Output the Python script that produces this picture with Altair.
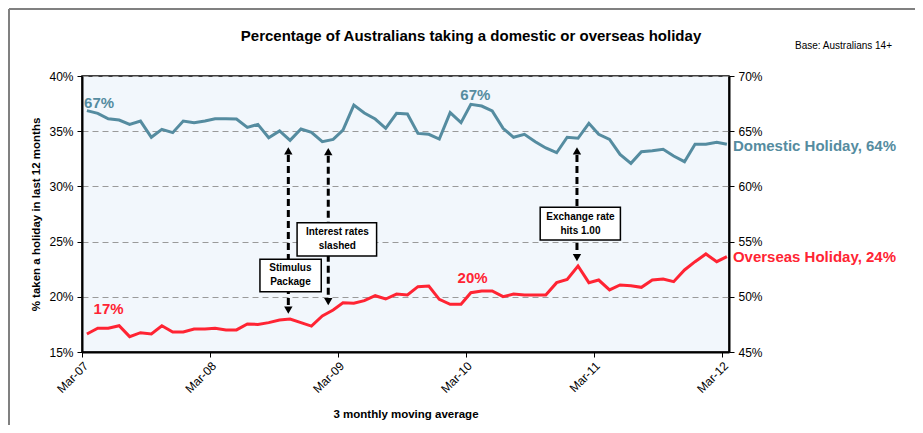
import altair as alt
import pandas as pd

# ---------------- data ----------------
dates = [f"{2007 + (2 + i) // 12}-{(2 + i) % 12 + 1:02d}-15" for i in range(61)]

# Domestic holiday (right axis, %)
domestic = [66.86, 66.62, 66.13, 66.01, 65.62, 65.92, 64.45, 65.17, 64.87, 65.92,
            65.77, 65.92, 66.13, 66.13, 66.10, 65.35, 65.62, 64.41, 65.02, 64.17,
            65.20, 64.90, 64.05, 64.26, 65.10, 67.36, 66.65, 66.10, 65.26, 66.62,
            66.56, 64.80, 64.72, 64.29, 66.68, 65.77, 67.43, 67.28, 66.83, 65.26,
            64.45, 64.72, 64.05, 63.48, 63.05, 64.45, 64.36, 65.71, 64.72, 64.26,
            62.90, 62.09, 63.14, 63.23, 63.36, 62.75, 62.24, 63.81, 63.81, 63.99,
            63.81]

# Overseas holiday (left axis, %)
overseas = [16.63, 17.15, 17.15, 17.38, 16.39, 16.75, 16.63, 17.38, 16.81, 16.81,
            17.08, 17.08, 17.15, 17.00, 17.00, 17.54, 17.50, 17.66, 17.90, 17.99,
            17.66, 17.35, 18.26, 18.80, 19.45, 19.41, 19.65, 20.10, 19.80, 20.25,
            20.16, 20.92, 20.98, 19.77, 19.32, 19.32, 20.37, 20.53, 20.53, 20.01,
            20.25, 20.16, 20.16, 20.16, 21.28, 21.58, 22.79, 21.28, 21.52, 20.62,
            21.07, 21.01, 20.86, 21.52, 21.61, 21.37, 22.43, 23.18, 23.88, 23.18,
            23.64]

left_ticks = [15, 20, 25, 30, 35, 40]
right_ticks = [45, 50, 55, 60, 65, 70]
tick_years = [2007, 2008, 2009, 2010, 2011, 2012]

TITLE = "Percentage of Australians taking a domestic or overseas holiday"
BASE = "Base: Australians 14+"

# value labels
dom_lbl_text = ["67%", "67%"]
dom_lbl_date = ["2007-03-07", "2010-03-28"]
dom_lbl_val = [67.55, 68.28]

ovs_lbl_text = ["17%", "20%"]
ovs_lbl_date = ["2007-05-16", "2010-03-20"]
ovs_lbl_val = [18.9, 21.7]

# annotations (left-axis units)
ann_text = ["Stimulus\nPackage", "Interest rates\nslashed", "Exchange rate\nhits 1.00"]
ann_date = ["2008-10-10", "2009-02-01", "2011-01-12"]
ann_up = [33.66, 33.60, 33.66]
ann_down = [18.35, 19.10, 23.09]
box_x1 = ["2008-07-21", "2008-11-04", "2010-09-29"]
box_x2 = ["2009-01-12", "2009-06-19", "2011-05-16"]
box_top = [23.40, 26.71, 28.11]
box_bot = [20.46, 23.70, 25.14]
box_cx = ["2008-10-16", "2009-02-27", "2011-01-22"]
box_cy = [21.93, 25.21, 26.62]

TEAL = "#558CA0"
RED = "#FF2433"

# ---------------- tables ----------------
dom_df = pd.DataFrame({"date": dates, "v": domestic})
ovs_df = pd.DataFrame({"date": dates, "v": overseas})
dom_lbl1_df = pd.DataFrame({"date": dom_lbl_date[:1], "v": dom_lbl_val[:1], "t": dom_lbl_text[:1]})
dom_lbl2_df = pd.DataFrame({"date": dom_lbl_date[1:], "v": dom_lbl_val[1:], "t": dom_lbl_text[1:]})
ovs_lbl_df = pd.DataFrame({"date": ovs_lbl_date, "v": ovs_lbl_val, "t": ovs_lbl_text})
dom_end_df = pd.DataFrame({"date": [dates[-1]], "v": [domestic[-1]],
                           "t": [f"Domestic Holiday, {round(domestic[-1])}%"]})
ovs_end_df = pd.DataFrame({"date": [dates[-1]], "v": [overseas[-1]],
                           "t": [f"Overseas Holiday, {round(overseas[-1])}%"]})
ann_df = pd.DataFrame({"date": ann_date, "up": ann_up, "down": ann_down})
box_df = pd.DataFrame({"x1": box_x1, "x2": box_x2, "top": box_top, "bot": box_bot,
                       "cx": box_cx, "cy": box_cy, "t": ann_text})
dummy = pd.DataFrame({"d": [0]})

# ---------------- encodings ----------------
x_scale = alt.Scale(type="utc",
                    domain=[alt.DateTime(year=2007, month=3, date=1, utc=True),
                            alt.DateTime(year=2012, month=3, date=21, utc=True)])
x_axis = alt.Axis(values=[alt.DateTime(year=y, month=3, date=1, utc=True) for y in tick_years],
                  labelExpr="utcFormat(datum.value, '%b-%y')", labelAngle=-45, grid=False,
                  tickSize=5, labelPadding=3, titlePadding=14,
                  title="3 monthly moving average")


def X(field):
    return alt.X(f"{field}:T", scale=x_scale, axis=x_axis)


left_scale = alt.Scale(domain=[15, 40], nice=False, zero=False)
left_axis = alt.Axis(values=left_ticks, labelExpr="datum.value + '%'", grid=True,
                     gridDash=[6, 4], gridColor="#9a9a9a", gridWidth=1,
                     tickSize=5, labelPadding=4, titlePadding=7,
                     title="% taken a holiday in last 12 months")


def YL(field):
    return alt.Y(f"{field}:Q", scale=left_scale, axis=left_axis)


right_scale = alt.Scale(domain=[45, 70], nice=False, zero=False)
right_axis = alt.Axis(values=right_ticks, labelExpr="datum.value + '%'", grid=False,
                      orient="right", tickSize=5, labelPadding=4, title=None)


def YR(field):
    return alt.Y(f"{field}:Q", scale=right_scale, axis=right_axis)


# ---------------- left group ----------------
ovs_line = alt.Chart(ovs_df).mark_line(color=RED, strokeWidth=3).encode(x=X("date"), y=YL("v"))
ovs_lbl = alt.Chart(ovs_lbl_df).mark_text(color=RED, fontSize=15, fontWeight="bold",
                                          baseline="middle").encode(x=X("date"), y=YL("v"), text="t:N")
ovs_end = alt.Chart(ovs_end_df).mark_text(color=RED, fontSize=15, fontWeight="bold",
                                          align="left", baseline="middle", dx=6).encode(
    x=X("date"), y=YL("v"), text="t:N")

arrow_line = alt.Chart(ann_df).mark_rule(color="black", strokeWidth=3, strokeDash=[7, 4],
                                         yOffset=9, y2Offset=-9).encode(
    x=X("date"), y=YL("up"), y2="down:Q")
head_up = alt.Chart(ann_df).mark_point(shape="triangle-up", filled=True, color="black",
                                       size=70, opacity=1, yOffset=5).encode(x=X("date"), y=YL("up"))
head_down = alt.Chart(ann_df).mark_point(shape="triangle-down", filled=True, color="black",
                                         size=70, opacity=1, yOffset=-5).encode(x=X("date"), y=YL("down"))
boxes = alt.Chart(box_df).mark_rect(fill="white", stroke="black", strokeWidth=1.5).encode(
    x=X("x1"), x2="x2:T", y=YL("top"), y2="bot:Q")
box_txt = alt.Chart(box_df).mark_text(fontSize=10, fontWeight="bold", lineBreak="\n",
                                      lineHeight=14, baseline="middle", dy=-7, color="black").encode(
    x=X("cx"), y=YL("cy"), text="t:N")

frame_top = alt.Chart(dummy).mark_rule(color="#808080", strokeWidth=2).encode(
    x=alt.value(-73), x2=alt.value(840), y=alt.value(-67))
frame_left = alt.Chart(dummy).mark_rule(color="#808080", strokeWidth=2).encode(
    x=alt.value(-73), y=alt.value(-67), y2=alt.value(360))
title_txt = alt.Chart(dummy).mark_text(fontSize=15, fontWeight="bold", align="center",
                                       baseline="middle", color="black").encode(
    x=alt.value(389), y=alt.value(-40), text=alt.value(TITLE))
base_txt = alt.Chart(dummy).mark_text(fontSize=10, align="left", baseline="middle",
                                      color="black").encode(
    x=alt.value(713), y=alt.value(-30), text=alt.value(BASE))

left = alt.layer(ovs_line, arrow_line, head_up, head_down, boxes, box_txt,
                 ovs_lbl, ovs_end, frame_top, frame_left, title_txt, base_txt)

# ---------------- right group ----------------
dom_line = alt.Chart(dom_df).mark_line(color=TEAL, strokeWidth=3).encode(x=X("date"), y=YR("v"))
dom_lbl1 = alt.Chart(dom_lbl1_df).mark_text(color=TEAL, fontSize=15, fontWeight="bold",
                                            align="left", baseline="middle").encode(
    x=X("date"), y=YR("v"), text="t:N")
dom_lbl2 = alt.Chart(dom_lbl2_df).mark_text(color=TEAL, fontSize=15, fontWeight="bold",
                                            align="center", baseline="middle").encode(
    x=X("date"), y=YR("v"), text="t:N")
dom_end = alt.Chart(dom_end_df).mark_text(color=TEAL, fontSize=15, fontWeight="bold",
                                          align="left", baseline="middle", dx=6, dy=2).encode(
    x=X("date"), y=YR("v"), text="t:N")

right = alt.layer(dom_line, dom_lbl1, dom_lbl2, dom_end)

chart = alt.layer(left, right).resolve_scale(y="independent").properties(
    width=647, height=276,
    padding={"left": 74, "top": 68, "right": 186, "bottom": 73},
    autosize=alt.AutoSizeParams(type="none"),
).configure(font="Liberation Sans").configure_view(
    fill="#F2F7FC", stroke="black", strokeWidth=1.5
).configure_axis(
    labelFont="Liberation Sans", labelFontSize=12, labelColor="black",
    titleFont="Liberation Sans", titleFontSize=11.5, titleFontWeight="bold", titleColor="black",
    tickColor="black", domainColor="black", domainWidth=2
)

chart.save("out.html", embed_options={"renderer": "svg", "actions": False})
